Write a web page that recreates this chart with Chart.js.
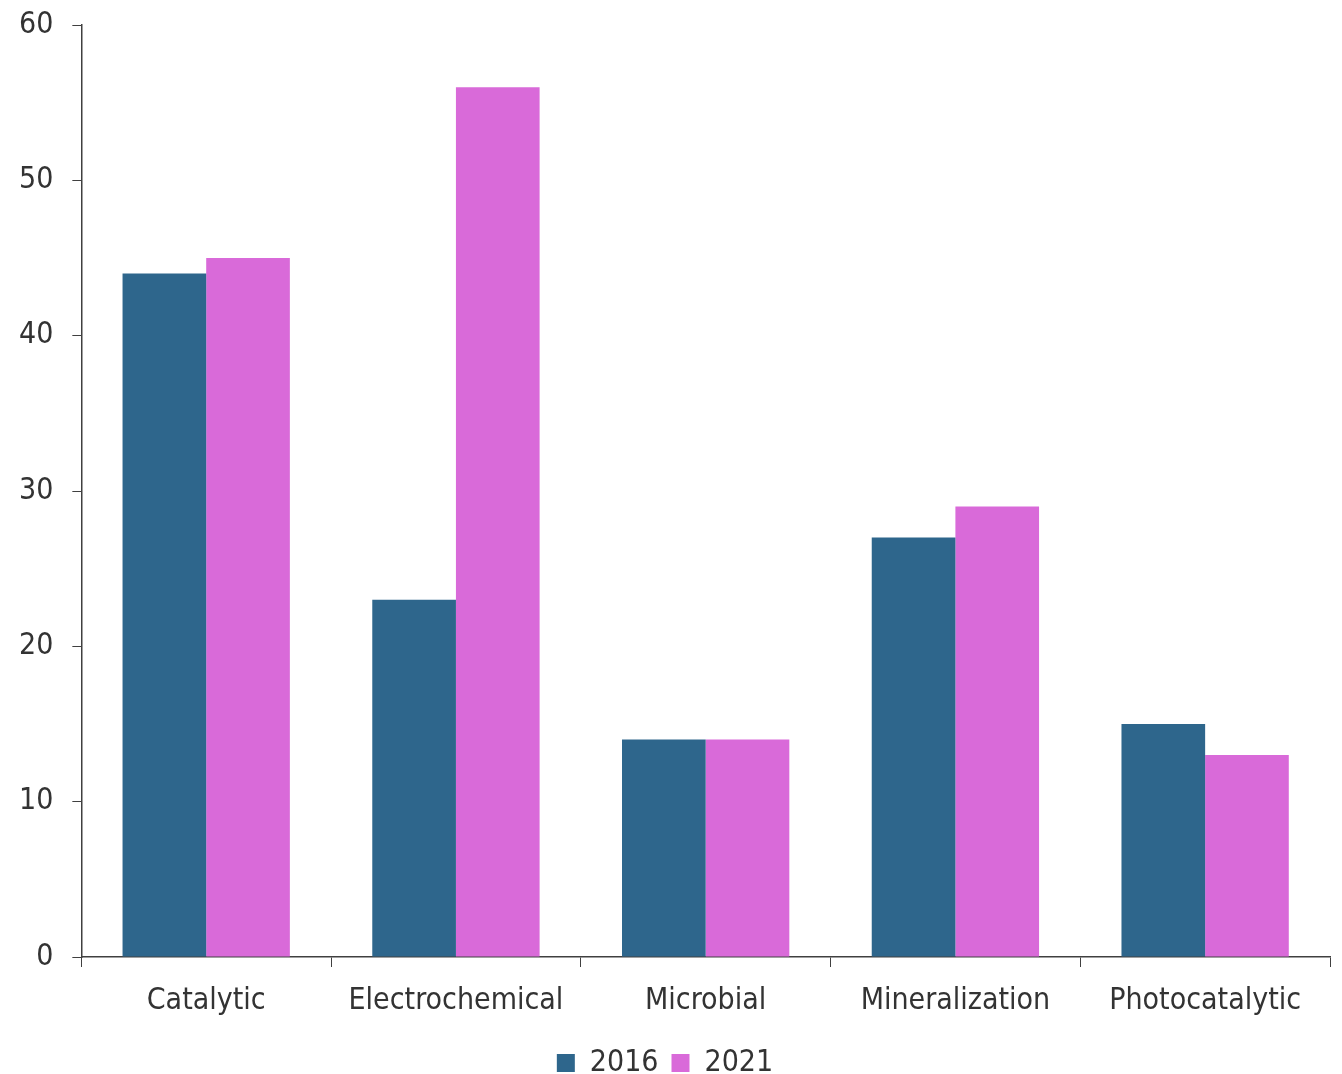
<!DOCTYPE html>
<html>
<head>
<meta charset="utf-8">
<script src="https://cdn.jsdelivr.net/npm/chart.js@4/dist/chart.umd.min.js"></script>
<style>
  html, body { margin: 0; padding: 0; background: #fff; }
  #wrap { width: 1342px; height: 1074px; }
</style>
</head>
<body>
<div id="wrap"><canvas id="chart" width="1342" height="1074"></canvas></div>
<script>
// categories and series
const categories = ['Catalytic', 'Electrochemical', 'Microbial', 'Mineralization', 'Photocatalytic'];
const values2016 = [44, 23, 14, 27, 15];
const values2021 = [45, 56, 14, 29, 13];
const yTicks = [0, 10, 20, 30, 40, 50, 60];

const axisColor = '#404040';
const textColor = '#333333';
const fontFamily = '"DejaVu Sans Condensed", "DejaVu Sans", sans-serif';

const ctx = document.getElementById('chart').getContext('2d');
new Chart(ctx, {
    type: 'bar',
    data: {
        labels: categories,
        datasets: [
            {
                label: '2016',
                data: values2016,
                backgroundColor: '#2E668C',
                categoryPercentage: 0.67,
                barPercentage: 1.0,
            },
            {
                label: '2021',
                data: values2021,
                backgroundColor: '#D96AD9',
                categoryPercentage: 0.67,
                barPercentage: 1.0,
            },
        ]
    },
    options: {
        responsive: false,
        animation: false,
        layout: { padding: { top: 18, right: 12, left: 0, bottom: -14 } },
        scales: {
            x: {
                offset: true,
                grid: {
                    offset: true,
                    drawOnChartArea: false,
                    drawTicks: true,
                    tickLength: 10,
                    color: axisColor,
                    tickColor: axisColor,
                },
                border: { color: axisColor, width: 1.5 },
                ticks: {
                    color: textColor,
                    padding: 16,
                    font: { family: fontFamily, size: 30 },
                    maxRotation: 0,
                }
            },
            y: {
                min: 0,
                max: 60,
                afterBuildTicks: axis => { axis.ticks = yTicks.map(v => ({ value: v })); },
                grid: {
                    drawOnChartArea: false,
                    drawTicks: true,
                    tickLength: 9,
                    color: axisColor,
                    tickColor: axisColor,
                },
                border: { color: axisColor, width: 1.5 },
                ticks: {
                    color: textColor,
                    padding: 19,
                    // small lineHeight so the top label does not push the plot down
                    font: { family: fontFamily, size: 30, lineHeight: 0.4 },
                }
            }
        },
        plugins: {
            legend: {
                display: true,
                position: 'bottom',
                labels: {
                    color: textColor,
                    boxWidth: 18,
                    boxHeight: 18,
                    padding: 13,
                    font: { family: fontFamily, size: 30 },
                }
            },
            tooltip: { enabled: false }
        }
    }
});
</script>
</body>
</html>
